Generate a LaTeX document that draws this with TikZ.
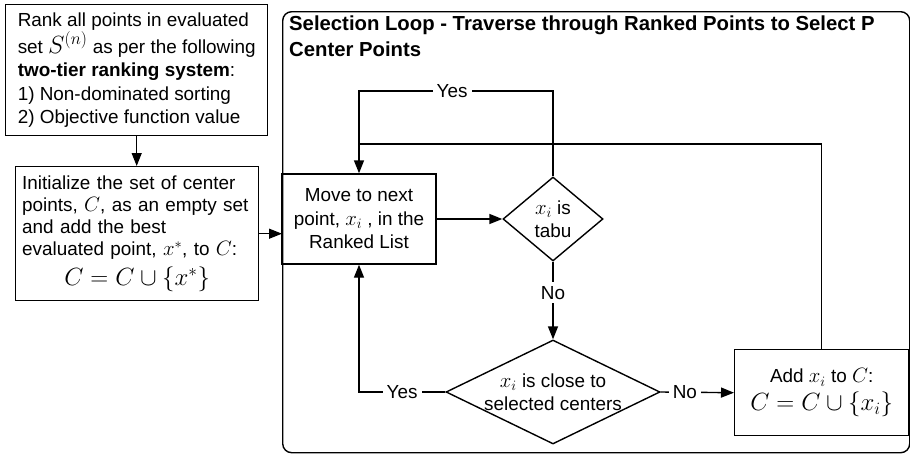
\documentclass[tikz,border=0pt]{standalone}
\usepackage{fontspec}
\setmainfont{Liberation Sans}
\usetikzlibrary{shapes.geometric,arrows.meta,calc}

% inline and displayed maths at the sizes used in the chart
\newcommand{\inm}[1]{{\fontsize{20.5}{21}\selectfont$#1$}}
\newcommand{\dispm}[1]{{\fontsize{25}{27}\selectfont$#1$}}

\tikzset{
  body/.style={font=\fontsize{18.9}{23.5}\selectfont},
  stepbox/.style={draw, line width=1.4pt, rectangle, inner sep=4pt, body},
  decision/.style={draw, line width=1.4pt, diamond, inner sep=0pt},
  flow/.style={line width=1.4pt, -{Triangle[length=13pt,width=10pt]}},
  plain/.style={line width=1.4pt},
  tag/.style={fill=white, inner sep=4pt, body},
}

\begin{document}
\begin{tikzpicture}[x=1pt, y=-1pt]
\useasboundingbox (0,0) rectangle (910,455);

% outer frame of the selection loop
\node[draw, line width=1.4pt, rounded corners=9pt, minimum width=627pt,
      minimum height=441pt, anchor=north west, inner sep=0pt] (loop) at (282,11) {};
\node[anchor=north west, align=left, inner sep=0pt,
      font=\bfseries\fontsize{20.3}{26}\selectfont] (title) at (289,16)
  {Selection Loop - Traverse through Ranked Points to Select P\\Center Points};

% preparation steps on the left
\node[stepbox, anchor=north west, minimum width=262pt, minimum height=131pt, align=left] (rank) at (5,4)
  {Rank all points in evaluated\\
   set \dispm{S^{(n)}} as per the following\\
   \textbf{two-tier ranking system}:\\
   1) Non-dominated sorting\\
   2) Objective function value};

\node[stepbox, anchor=north west, minimum width=243pt, minimum height=134pt,
      text width=230pt, align=left, font=\fontsize{18.9}{22}\selectfont] (init) at (15,166)
  {Initialize the set of center\\
   points, \inm{C}, as an empty set\\
   and add the best\\
   evaluated point, \inm{x^{*}}, to \inm{C}:\\[6pt]
   \makebox[\linewidth][c]{\dispm{C = C \cup \{x^{*}\}}}};

% steps inside the loop
\node[stepbox, minimum width=154pt, minimum height=90pt, align=center] (move) at (359,219)
  {Move to next\\point, \inm{x_i} , in the\\Ranked List};

\node[decision, minimum width=100pt, minimum height=84pt] (tabu) at (553,219) {};
\node[body, align=center, inner sep=0pt] (tabutext) at (553,219) {\inm{x_i} is\\tabu};

\node[decision, minimum width=214pt, minimum height=104pt] (close) at (553,392) {};
\node[body, align=center, inner sep=0pt] (closetext) at (553,392)
  {\inm{x_i} is close to\\selected centers};

\node[stepbox, anchor=north west, minimum width=174pt, minimum height=86pt, align=center] (add) at (734,349)
  {Add \inm{x_i} to \inm{C}:\\[4pt]\dispm{C = C \cup \{x_i\}}};

% junction points of the loop-back lines
\coordinate (ytop) at (359,91);
\coordinate (merge) at (359,144);

% connectors
\draw[flow] (rank.south) -- (rank.south |- init.north);
\draw[flow] (init.east) -- (loop.west |- init.east);
\draw[flow] (move.east) -- (tabu.west);
\draw[flow] (tabu.north) |- (ytop) node[tag, pos=0.76] {Yes} -- (move.north);
\draw[plain] (add.north) |- (merge);
\draw[flow] (tabu.south) -- (close.north) node[tag, pos=0.4] {No};
\draw[flow] (close.east) -- (add.west) node[tag, pos=0.33] {No};
\draw[flow] (close.west) -- (move.south |- close.west) node[tag, pos=0.5] {Yes} -- (move.south);
\end{tikzpicture}
\end{document}
